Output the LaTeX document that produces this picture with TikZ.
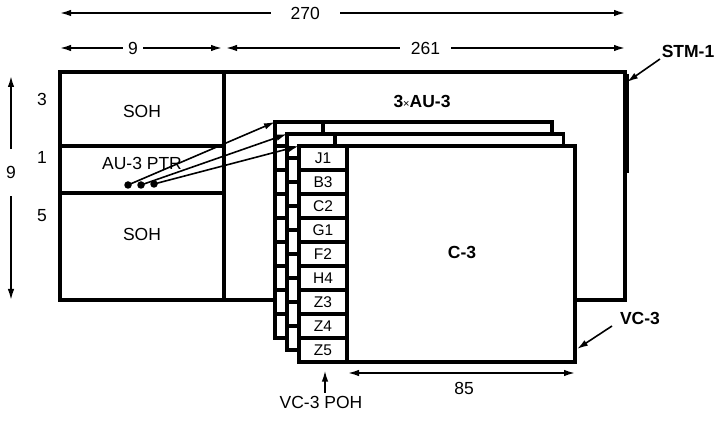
\documentclass[tikz,border=0pt]{standalone}
\usepackage{fontspec}
\setmainfont{Liberation Sans}
\usetikzlibrary{arrows.meta}
\begin{document}
\begin{tikzpicture}[x=1pt,y=-1pt,
  frame/.style={line width=3.5pt},
  tipa/.tip={Latex[length=11pt,width=6.5pt]},
  dim/.style={line width=1.6pt,{tipa}-{tipa}},
  ptr/.style={line width=1.6pt,-{tipa}},
  lbl/.style={font=\fontsize{17.5}{20}\selectfont, inner sep=1pt},
  blbl/.style={font=\fontsize{17.5}{20}\selectfont\bfseries, inner sep=1pt},
  cell/.style={font=\fontsize{15.5}{17}\selectfont, inner sep=0pt},
  dotn/.style={circle,fill=black,inner sep=0pt,minimum size=7.5pt}]
\useasboundingbox (0,0) rectangle (718,422);

% main STM-1 frame
\draw[frame] (60,72) rectangle (625,300);
\draw[frame] (224,72) -- (224,300);
\draw[frame] (60,146) -- (224,146);
\draw[frame] (60,193) -- (224,193);
\draw[line width=2pt] (627.5,74) -- (627.5,173);

\node[lbl] (soh1) at (142,111) {SOH};
\node[lbl] (ptrl) at (142,163) {AU-3 PTR};
\node[lbl] (soh2) at (142,234) {SOH};
\node[lbl] (au3) at (422,101) {\bfseries 3{\fontsize{11}{12}\selectfont\mdseries ×}AU-3};

% stacked AU-3 / VC-3 frames
\foreach \i in {0,1,2} {
  \pgfmathsetmacro\L{275+12*\i}
  \pgfmathsetmacro\T{122+12*\i}
  \pgfmathsetmacro\R{552+11.5*\i}
  \pgfmathsetmacro\B{338+12*\i}
  \filldraw[frame,fill=white] (\L,\T) rectangle (\R,\B);
  \draw[frame] (\L+48,\T) -- (\L+48,\B);
  \foreach \k in {1,...,8} \draw[frame] (\L,\T+24*\k) -- (\L+48,\T+24*\k);
  \coordinate (c\i) at (\L,\T);
}

\foreach \t [count=\k from 0] in {J1,B3,C2,G1,F2,H4,Z3,Z4,Z5}
  \node[cell] (poh\k) at (323,158+24*\k) {\t};
\node[blbl] (c3) at (462,252) {C-3};

% pointer dots and arrows
\node[dotn] (d1) at (128,185) {};
\node[dotn] (d2) at (141,185) {};
\node[dotn] (d3) at (154,184) {};
\draw[ptr] (d1.center) -- (c0);
\draw[ptr] (d2.center) -- (c1);
\draw[ptr] (d3.center) -- (c2);

% dimension arrows
\coordinate (a1) at (60,13);  \coordinate (a2) at (625,13);
\draw[dim] (a1) -- node[lbl,fill=white,inner xsep=20pt,pos=0.434] (t270) {270} (a2);
\coordinate (b1) at (60,48);  \coordinate (b2) at (222,48);
\draw[dim] (b1) -- node[lbl,fill=white,inner xsep=5pt,pos=0.45] (t9) {9} (b2);
\coordinate (e1) at (226,48);  \coordinate (e2) at (625,48);
\draw[dim] (e1) -- node[lbl,fill=white,inner xsep=11pt,pos=0.5] (t261) {261} (e2);
\coordinate (v1) at (11,76);  \coordinate (v2) at (11,300);
\draw[dim] (v1) -- node[lbl,fill=white,inner ysep=17pt,pos=0.43] (tv9) {9} (v2);
\coordinate (h1) at (348,373);  \coordinate (h2) at (575,373);
\draw[dim] (h1) -- (h2);
\node[lbl] (t85) at (464,388) {85};

\node[lbl] (r3) at (42,99) {3};
\node[lbl] (r1) at (42,157) {1};
\node[lbl] (r5) at (42,216) {5};

% callouts
\node[blbl] (stm) at (688,51) {STM-1};
\coordinate (stmt) at (627,82);
\draw[ptr] (660,59) -- (stmt);
\node[blbl] (vc3) at (640,318) {VC-3};
\coordinate (vc3t) at (577,349);
\draw[ptr] (612,326) -- (vc3t);
\node[lbl] (poh) at (321,402) {VC-3 POH};
\draw[ptr] (poh.north -| poh8) ++(2,-2) -- ++(0,-22);
\end{tikzpicture}
\end{document}
